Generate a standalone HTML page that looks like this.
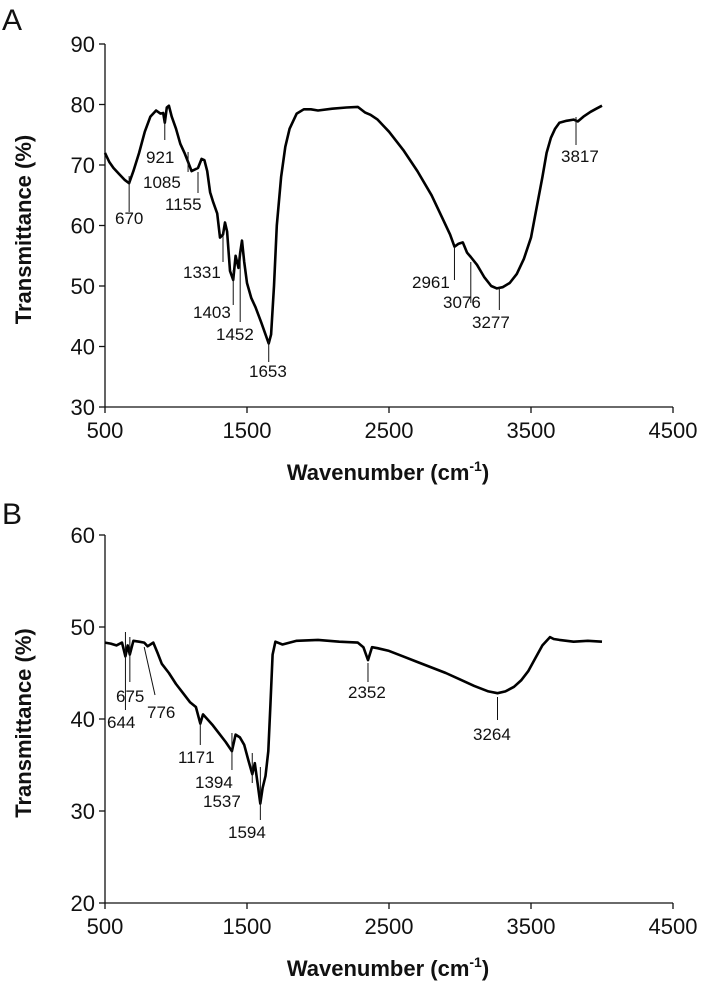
<!DOCTYPE html>
<html><head><meta charset="utf-8"><style>
html,body{margin:0;padding:0;background:#fff;}
svg{display:block;font-family:"Liberation Sans",Arial,sans-serif;}
</style></head><body>
<svg id="chart" width="708" height="997" viewBox="0 0 708 997" xmlns="http://www.w3.org/2000/svg"></svg>
<script>
// Panel A data
const aWave = [500,530,560,600,640,670,700,740,780,820,860,890,910,921,935,950,970,1000,1030,1060,1085,1110,1155,1180,1200,1220,1240,1260,1290,1310,1331,1345,1360,1380,1403,1420,1440,1452,1465,1480,1500,1530,1560,1600,1630,1653,1670,1690,1710,1740,1770,1800,1850,1900,1950,2000,2100,2200,2280,2330,2370,2420,2500,2600,2700,2800,2880,2930,2961,2990,3020,3050,3076,3120,3170,3220,3260,3300,3350,3400,3450,3500,3540,3580,3610,3640,3670,3700,3750,3800,3830,3870,3920,3960,4000];
const aVals = [72,70.5,69.5,68.5,67.5,67,69,72,75.5,78,79,78.5,78.6,77,79.5,79.8,78,76,73.5,72,70.5,69,69.5,71,70.8,69,65.5,64,62,58,58.5,60.5,59,52.5,51,55,53,55.5,57.5,54,50.5,48,46.5,44,42,40.5,42,50,60,68,73,76,78.5,79.2,79.2,79,79.3,79.5,79.6,78.7,78.3,77.5,75.5,72.5,69,65,61,58.5,56.5,57,57.2,55.5,54.8,53.5,51.5,50,49.6,49.8,50.5,52,54.5,58,63,68,72,74.5,76,77,77.3,77.5,77.2,78,78.8,79.3,79.8];
// Panel B data
const bWave = [500,540,580,620,644,660,675,700,740,776,800,840,870,900,950,1000,1050,1100,1140,1171,1190,1220,1260,1300,1350,1394,1420,1450,1480,1510,1537,1555,1575,1594,1610,1630,1650,1665,1680,1700,1750,1850,2000,2150,2280,2320,2352,2380,2420,2500,2600,2700,2800,2900,3000,3100,3200,3264,3320,3380,3430,3480,3530,3580,3634,3660,3700,3800,3900,4000];
const bVals = [48.3,48.2,48.0,48.3,46.8,48.0,47.0,48.5,48.4,48.3,47.9,48.3,47.2,46.0,45.0,43.8,42.8,41.8,41.3,39.5,40.5,40.0,39.3,38.5,37.5,36.5,38.3,38.0,37.2,35.5,34.0,35.2,33.0,30.8,32.5,33.8,36.5,41.5,47.0,48.4,48.1,48.5,48.6,48.4,48.3,47.8,46.4,47.8,47.7,47.4,46.8,46.2,45.6,45.0,44.3,43.6,43.0,42.8,43.0,43.5,44.2,45.2,46.6,48.0,48.9,48.7,48.6,48.4,48.5,48.4];
// tick labels
const xTicks = [500,1500,2500,3500,4500];
const aYTicks = [30,40,50,60,70,80,90];
const bYTicks = [20,30,40,50,60];
// peak annotation labels / wavenumbers
const aPeaks = ["670","921","1085","1155","1331","1403","1452","1653","2961","3076","3277","3817"];
const aPeakWave = [670,921,1085,1155,1331,1403,1452,1653,2961,3076,3277,3817];
const bPeaks = ["644","675","776","1171","1394","1537","1594","2352","3264"];
const bPeakWave = [644,675,776,1171,1394,1537,1594,2352,3264];

const NS="http://www.w3.org/2000/svg";
const svg=document.getElementById('chart');
function mk(tag,attrs,parent){const e=document.createElementNS(NS,tag);for(const k in attrs)e.setAttribute(k,attrs[k]);(parent||svg).appendChild(e);return e;}
const xL=105,xR=673;
function xs(w){return xL+(w-500)/4000*(xR-xL);}

function panel(cfg){
  const g=mk('g',{});
  
  
  const ys=v=>cfg.yTop+(cfg.yMax-v)/(cfg.yMax-cfg.yMin)*(cfg.yBot-cfg.yTop);
  const letter=mk('text',{x:2,y:cfg.letterY,'font-size':30,fill:'#111'},g);letter.textContent=cfg.letter;
  
  
  const ya=mk('line',{x1:xL,y1:cfg.yTop,x2:xL,y2:cfg.yBot,stroke:'#111','stroke-width':1.3},g);
  
  
  const xa=mk('line',{x1:xL,y1:cfg.yBot,x2:xR,y2:cfg.yBot,stroke:'#111','stroke-width':1.3},g);
  
  
  cfg.yTicks.forEach(v=>{
    mk('line',{x1:xL-6,y1:ys(v),x2:xL,y2:ys(v),stroke:'#111','stroke-width':1.3},g);
    const t=mk('text',{x:xL-10,y:ys(v)+8,'font-size':22,'text-anchor':'end',fill:'#111'},g);t.textContent=v;
    
    
  });
  xTicks.forEach(v=>{
    mk('line',{x1:xs(v),y1:cfg.yBot,x2:xs(v),y2:cfg.yBot+6,stroke:'#111','stroke-width':1.3},g);
    const t=mk('text',{x:xs(v),y:cfg.yBot+31,'font-size':22,'text-anchor':'middle',fill:'#111'},g);t.textContent=v;
    
    
  });
  const xt=mk('text',{x:388,y:cfg.yBot+73,'font-size':22,'font-weight':'bold','text-anchor':'middle',fill:'#111'},g);
  xt.innerHTML='Wavenumber (cm<tspan font-size="14" dy="-9">-1</tspan><tspan dy="9">)</tspan>';
  
  
  const yt=mk('text',{x:0,y:0,'font-size':22,'font-weight':'bold','text-anchor':'middle',fill:'#111',transform:`translate(31,${(cfg.yTop+cfg.yBot)/2+4}) rotate(-90)`},g);
  yt.textContent='Transmittance (%)';
  
  
  let d='';cfg.wave.forEach((w,i)=>{d+=(i?'L':'M')+xs(w).toFixed(1)+','+ys(cfg.vals[i]).toFixed(1);});
  const p=mk('path',{d:d,fill:'none',stroke:'#000','stroke-width':2.6,'stroke-linejoin':'round'},g);
  
  
  cfg.peaks.forEach((lab,i)=>{
    const a=cfg.ann[i];const lx=xs(cfg.peakWave[i]);
    const ln=mk('line',{x1:lx,y1:a[0],x2:a[4]!==undefined?a[4]:lx,y2:a[1],stroke:'#111','stroke-width':1},g);
    
    
    const t=mk('text',{x:a[2],y:a[3],'font-size':17,fill:'#111'},g);t.textContent=lab;
    
    
  });
}
panel({name:'panel-a',letter:'A',letterY:30,yTop:44,yBot:407,yMin:30,yMax:90,yTicks:aYTicks,wave:aWave,vals:aVals,peaks:aPeaks,peakWave:aPeakWave,
 ann:[[176,212,115,224],[118,140,146,163],[152,172,143,188],[172,193,165,210],[230,262,183,278],[270,305,193,318],[250,322,216,340],[340,362,249,377],[247,280,412,288],[262,303,443,308],[288,310,472,328],[117,145,561,162]]});
panel({name:'panel-b',letter:'B',letterY:524,yTop:535,yBot:903,yMin:20,yMax:60,yTicks:bYTicks,wave:bWave,vals:bVals,peaks:bPeaks,peakWave:bPeakWave,
 ann:[[632,710,107,728],[637,682,116,702],[647,695,147,718,155],[720,745,178,763],[733,770,195,788],[753,783,203,807],[767,820,228,838],[663,682,348,698],[697,720,473,740]]});
</script>
</body></html>
